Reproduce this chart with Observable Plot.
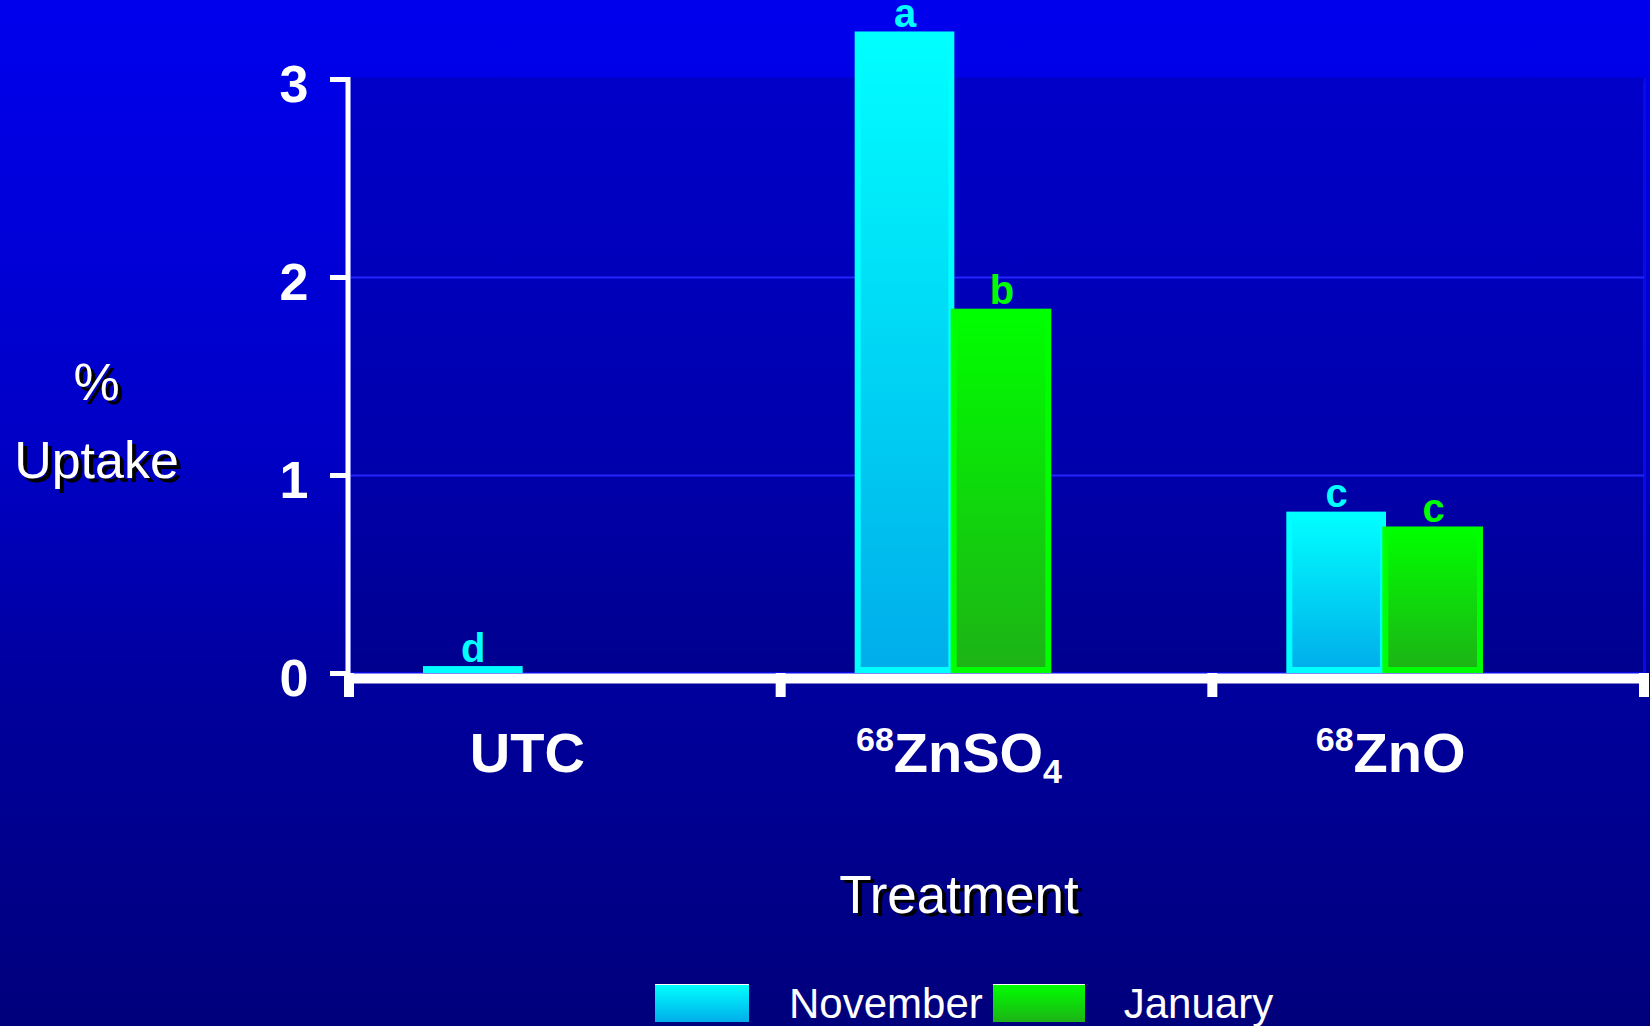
<!DOCTYPE html>
<html>
<head>
<meta charset="utf-8">
<script src="https://cdn.jsdelivr.net/npm/d3@7"></script>
<script src="https://cdn.jsdelivr.net/npm/@observablehq/plot@0.6"></script>
<style>
  html, body { margin: 0; padding: 0; }
  body {
    width: 1650px; height: 1026px; overflow: hidden;
    background: linear-gradient(to bottom, #0000EE 0%, #0000C4 45%, #00009C 68%, #00007C 100%);
    font-family: 'Liberation Sans', Arial, Helvetica, sans-serif;
  }
  #legend { display: flex; align-items: flex-start; height: 46px; }
  .sw { height: 38px; margin-top: 4px; border-top: 1px solid #ffffff; box-sizing: border-box; }
  .lab { color: #ffffff; font-size: 42px; line-height: 42px; margin-top: 3px; white-space: nowrap; }
</style>
</head>
<body>
<div id="chart"></div>
<div id="legend"></div>
<script>
// ---- data ----
const categories = ["UTC", "68ZnSO4", "68ZnO"];
const months = ["November", "January"];
const november = [0.035, 3.24, 0.815];
const january = [0, 1.84, 0.74];
const novemberLetters = ["d", "a", "c"];
const januaryLetters = ["", "b", "c"];
const yTicks = [0, 1, 2, 3];
const yTitle = ["%", "Uptake"];
const xTitle = "Treatment";

const data = categories.flatMap((c, i) => [
  {treatment: c, month: months[0], value: november[i], letter: novemberLetters[i]},
  {treatment: c, month: months[1], value: january[i], letter: januaryLetters[i]}
]);
const nov = data.filter(d => d.month === months[0] && d.value > 0);
const jan = data.filter(d => d.month === months[1] && d.value > 0);

const font = "'Liberation Sans', Arial, Helvetica, sans-serif";

const gradients = () => {
  const defs = d3.create("svg:defs");
  const add = (id, top, bottom) => {
    const g = defs.append("linearGradient").attr("id", id)
      .attr("x1", 0).attr("y1", 0).attr("x2", 0).attr("y2", 1);
    g.append("stop").attr("offset", "0%").attr("stop-color", top);
    g.append("stop").attr("offset", "100%").attr("stop-color", bottom);
  };
  add("gradNov", "#00FFFF", "#00ADEA");
  add("gradJan", "#00FF00", "#1DB316");
  return defs.node();
};

// y axis line and x boundary ticks, positioned through the plot's scales
const axisLines = (index, scales, values, dims) => {
  const x = scales.x, y = scales.y;
  const bw = x.bandwidth ? x.bandwidth() : (dims.width - dims.marginLeft - dims.marginRight) / categories.length;
  const g = d3.create("svg:g").attr("stroke", "white");
  const left = dims.marginLeft;
  g.append("line").attr("x1", left - 1).attr("x2", left - 1)
    .attr("y1", y(d3.max(yTicks)) - 2).attr("y2", y(0) + 8).attr("stroke-width", 5);
  const bounds = [...categories.map(c => x(c)), x(categories[categories.length - 1]) + bw];
  for (const b of bounds) {
    g.append("line").attr("x1", b).attr("x2", b)
      .attr("y1", y(0)).attr("y2", y(0) + 24).attr("stroke-width", 10);
  }
  return g.node();
};

const chart = Plot.plot({
  width: 1650,
  height: 980,
  marginLeft: 349,
  marginRight: 6,
  marginTop: 79,
  marginBottom: 307,
  style: {background: "transparent", fontFamily: font, overflow: "visible"},
  x: {domain: categories, padding: 0, round: false, axis: null},
  y: {domain: [0, 3]},
  marks: [
    gradients,
    Plot.frame({fill: "#000030", fillOpacity: 0.16, stroke: "#0A0AE6", strokeWidth: 3}),
    Plot.gridY([1, 2], {stroke: "#2424FF", strokeOpacity: 1, strokeWidth: 2}),
    Plot.ruleY([3], {stroke: "#0000C6", strokeWidth: 4}),
    Plot.axisY({ticks: yTicks, tickSize: 19, tickFormat: () => "", stroke: "white", strokeWidth: 5, label: null}),
    Plot.text(yTicks, {y: d => d, frameAnchor: "left", dx: -41, dy: 6, textAnchor: "end", lineAnchor: "middle",
      fill: "white", fontSize: 52, fontWeight: "bold", fontFamily: font}),
    Plot.barY(nov, {x: "treatment", y: "value", fill: "url(#gradNov)", stroke: "#00FFFF",
      strokeWidth: 6, insetLeft: 77, insetRight: 261, insetTop: 3, insetBottom: 3}),
    Plot.barY(jan, {x: "treatment", y: "value", fill: "url(#gradJan)", stroke: "#00FF00",
      strokeWidth: 6, insetLeft: 173, insetRight: 164, insetTop: 3, insetBottom: 3}),
    Plot.ruleY([0], {stroke: "white", strokeWidth: 10, dy: 5, insetLeft: -3, insetRight: -4}),
    axisLines,
    Plot.text(nov, {x: "treatment", y: "value", text: "letter", dx: -92, dy: -5, lineAnchor: "bottom",
      fill: "#00FFFF", fontSize: 40, fontWeight: "bold", fontFamily: font}),
    Plot.text(jan, {x: "treatment", y: "value", text: "letter", dx: 5, dy: -5, lineAnchor: "bottom",
      fill: "#00FF00", fontSize: 40, fontWeight: "bold", fontFamily: font}),
    Plot.text(categories, {x: d => d, frameAnchor: "bottom", lineAnchor: "middle", dx: -38, dy: 81, fill: "white",
      fontSize: 56, fontWeight: "bold", fontFamily: font}),
    // y title with shadow
    Plot.text([yTitle[0]], {frameAnchor: "left", textAnchor: "middle", lineAnchor: "middle", dx: -253 + 4, dy: 7 + 4, fill: "black", fontSize: 52, fontFamily: font}),
    Plot.text([yTitle[1]], {frameAnchor: "left", textAnchor: "middle", lineAnchor: "middle", dx: -253 + 4, dy: 85 + 4, fill: "black", fontSize: 52, fontFamily: font}),
    Plot.text([yTitle[0]], {frameAnchor: "left", textAnchor: "middle", lineAnchor: "middle", dx: -253, dy: 7, fill: "white", fontSize: 52, fontFamily: font}),
    Plot.text([yTitle[1]], {frameAnchor: "left", textAnchor: "middle", lineAnchor: "middle", dx: -253, dy: 85, fill: "white", fontSize: 52, fontFamily: font}),
    // x title with shadow
    Plot.text([xTitle], {frameAnchor: "bottom", lineAnchor: "middle", dx: -38 + 4, dy: 223 + 3, fill: "black", fontSize: 53, fontFamily: font}),
    Plot.text([xTitle], {frameAnchor: "bottom", lineAnchor: "middle", dx: -38, dy: 223, fill: "white", fontSize: 53, fontFamily: font})
  ]
});

// isotope superscripts / formula subscripts in category labels
const NS = "http://www.w3.org/2000/svg";
Array.from(chart.querySelectorAll("text"))
  .filter(t => categories.includes(t.textContent))
  .forEach(t => {
    const s = t.textContent;
    const m = s.match(/^(\d+)?(.*?)(\d+)?$/);
    t.textContent = "";
    let shift = 0;
    if (m[1]) {
      const sup = document.createElementNS(NS, "tspan");
      sup.setAttribute("font-size", 34);
      sup.setAttribute("dy", -21);
      sup.textContent = m[1];
      t.appendChild(sup);
      shift = 21;
    }
    const body = document.createElementNS(NS, "tspan");
    body.setAttribute("dy", shift);
    body.textContent = m[2];
    t.appendChild(body);
    if (m[3]) {
      const sub = document.createElementNS(NS, "tspan");
      sub.setAttribute("font-size", 34);
      sub.setAttribute("dy", 11);
      sub.textContent = m[3];
      t.appendChild(sub);
    }
  });

document.getElementById("chart").appendChild(chart);

// legend below the chart
const legend = d3.select("#legend");
legend.append("div").attr("class", "sw")
  .style("margin-left", "655px").style("width", "94px")
  .style("background", "linear-gradient(to bottom, #00FFFF, #00ADEA)");
legend.append("div").attr("class", "lab").style("margin-left", "40px").text(months[0]);
legend.append("div").attr("class", "sw")
  .style("margin-left", "10px").style("width", "92px")
  .style("background", "linear-gradient(to bottom, #00FF00, #1DB316)");
legend.append("div").attr("class", "lab").style("margin-left", "39px").text(months[1]);
</script>
</body>
</html>
